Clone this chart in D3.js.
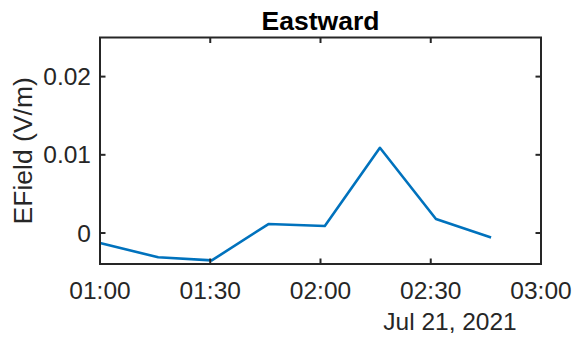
<!DOCTYPE html>
<html>
<head>
<meta charset="utf-8">
<script src="https://cdn.jsdelivr.net/npm/d3@7"></script>
<style>
  body { margin: 0; background: #fff; }
  svg { display: block; }
  text { font-family: "Liberation Sans", Arial, Helvetica, sans-serif; fill: #262626; }
</style>
</head>
<body>
<svg id="chart" width="574" height="337"></svg>
<script>
// Data
const times = ["01:00:00", "01:15:50", "01:30:25", "01:45:50", "02:01:10", "02:16:10", "02:31:25", "02:46:25"];
const efield = [-0.00128, -0.0031, -0.0035, 0.00115, 0.0009, 0.0109, 0.0018, -0.00056];
const xTickLabels = ["01:00", "01:30", "02:00", "02:30", "03:00"];
const yTicks = [0, 0.01, 0.02];
const yTickLabels = ["0", "0.01", "0.02"];
const dateLabel = "Jul 21, 2021";
const title = "Eastward";
const yLabel = "EField (V/m)";

const day = "2021-07-21T";
const parse = d3.timeParse("%Y-%m-%dT%H:%M:%S");
const data = times.map((t, i) => ({ t: parse(day + t), v: efield[i] }));
const xTickDates = xTickLabels.map(s => parse(day + s + ":00"));

const svg = d3.select("#chart");
const m = { left: 100, right: 541, top: 37.5, bottom: 264 };

const x = d3.scaleTime()
  .domain([xTickDates[0], xTickDates[xTickDates.length - 1]])
  .range([m.left, m.right]);
const y = d3.scaleLinear()
  .domain([-0.00396, 0.025])
  .range([m.bottom, m.top]);

const axisColor = "#262626";
const tickLen = 5.5;

// Line
const line = d3.line().x(d => x(d.t)).y(d => y(d.v));
svg.append("path")
  .datum(data)
  .attr("d", line)
  .attr("fill", "none")
  .attr("stroke", "#0072BD")
  .attr("stroke-width", 2.6)
  .attr("stroke-linejoin", "round");

// Box
svg.append("rect")
  .attr("x", m.left).attr("y", m.top)
  .attr("width", m.right - m.left).attr("height", m.bottom - m.top)
  .attr("fill", "none").attr("stroke", axisColor).attr("stroke-width", 2);

// X ticks (inward, bottom and top)
const gx = svg.append("g");
xTickDates.forEach((d, i) => {
  const px = x(d);
  gx.append("line").attr("x1", px).attr("x2", px)
    .attr("y1", m.bottom).attr("y2", m.bottom - tickLen)
    .attr("stroke", axisColor).attr("stroke-width", 2);
  gx.append("line").attr("x1", px).attr("x2", px)
    .attr("y1", m.top).attr("y2", m.top + tickLen)
    .attr("stroke", axisColor).attr("stroke-width", 2);
  gx.append("text").attr("x", px).attr("y", 299)
    .attr("text-anchor", "middle")
    .style("font-size", "24.5px")
    .text(xTickLabels[i]);
});

// Y ticks (inward, left and right)
const gy = svg.append("g");
yTicks.forEach((v, i) => {
  const py = y(v);
  gy.append("line").attr("x1", m.left).attr("x2", m.left + tickLen)
    .attr("y1", py).attr("y2", py)
    .attr("stroke", axisColor).attr("stroke-width", 2);
  gy.append("line").attr("x1", m.right).attr("x2", m.right - tickLen)
    .attr("y1", py).attr("y2", py)
    .attr("stroke", axisColor).attr("stroke-width", 2);
  gy.append("text").attr("x", 91).attr("y", py)
    .attr("text-anchor", "end")
    .attr("dy", "0.35em")
    .style("font-size", "24.5px")
    .text(yTickLabels[i]);
});

// Date label
svg.append("text").attr("x", 450).attr("y", 330)
  .attr("text-anchor", "middle")
  .style("font-size", "24.5px")
  .text(dateLabel);

// Title
svg.append("text").attr("x", (m.left + m.right) / 2).attr("y", 30)
  .attr("text-anchor", "middle")
  .style("font-size", "26.5px").style("font-weight", "bold")
  .style("fill", "#000")
  .text(title);

// Y label
svg.append("text")
  .attr("transform", `translate(31.5, ${(m.top + m.bottom) / 2}) rotate(-90)`)
  .attr("text-anchor", "middle")
  .style("font-size", "26.5px")
  .text(yLabel);
</script>
</body>
</html>
